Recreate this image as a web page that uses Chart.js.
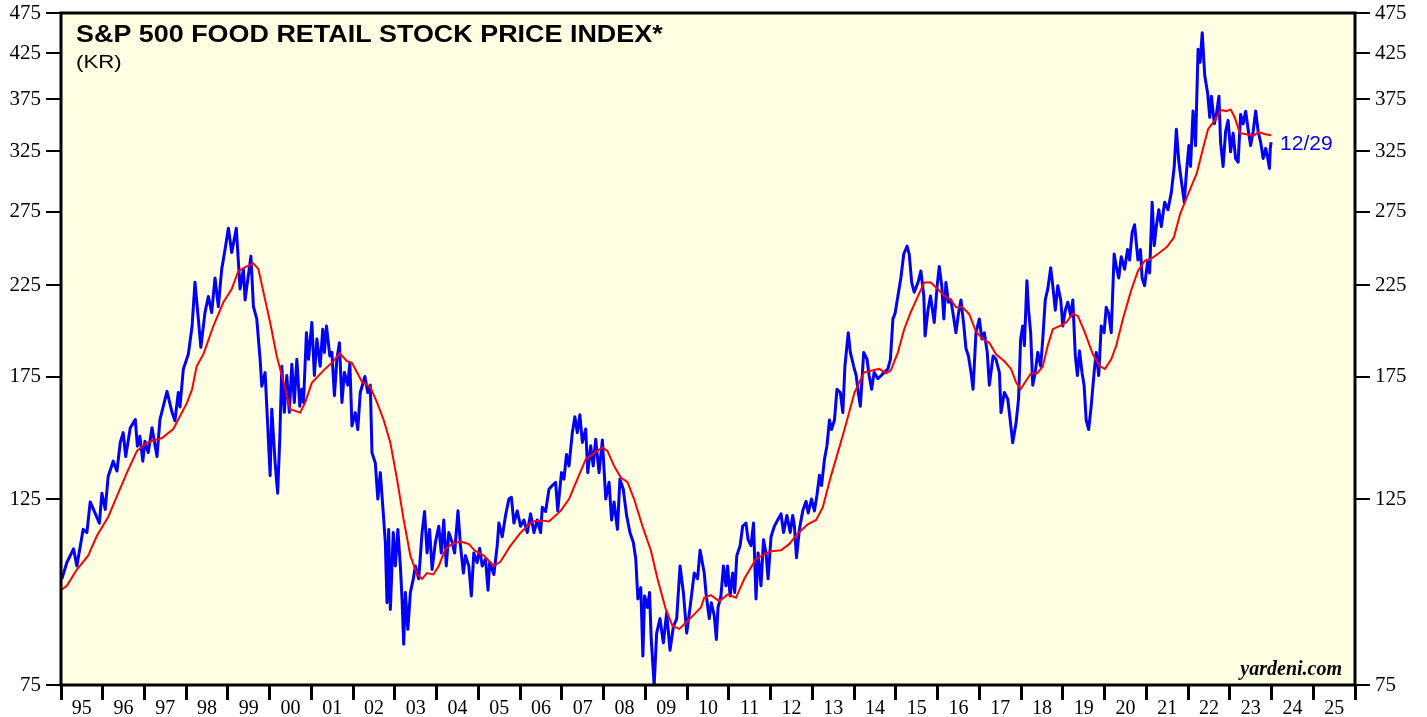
<!DOCTYPE html>
<html>
<head>
<meta charset="utf-8">
<title>S&amp;P 500 Food Retail Stock Price Index</title>
<script src="https://cdn.jsdelivr.net/npm/chart.js@4.4.1/dist/chart.umd.min.js"></script>
<style>
  html, body { margin: 0; padding: 0; background: #ffffff; }
  #wrap { width: 1427px; height: 717px; }
</style>
</head>
<body>
<div id="wrap"><canvas id="chart" width="1427" height="717"></canvas></div>
<script>
// ------------------------------------------------------
// DATA
// ------------------------------------------------------
const TITLE = "S&P 500 FOOD RETAIL STOCK PRICE INDEX*";
const SUBTITLE = "(KR)";
const LAST_LABEL = "12/29";
const SOURCE = "yardeni.com";

const yTicks = [75, 125, 175, 225, 275, 325, 375, 425, 475];
const xLabels = ["95", "96", "97", "98", "99", "00", "01", "02", "03", "04",
  "05", "06", "07", "08", "09", "10", "11", "12", "13", "14",
  "15", "16", "17", "18", "19", "20", "21", "22", "23", "24", "25"];

// price index (blue), decimal years
const priceDates = [
  1995.02, 1995.14, 1995.30, 1995.38, 1995.53, 1995.62, 1995.70, 1995.92, 1995.98,
  1996.06, 1996.13, 1996.25, 1996.34, 1996.42, 1996.49, 1996.55, 1996.66, 1996.78, 1996.83, 1996.89, 1996.96,
  1997.01, 1997.09, 1997.18, 1997.30, 1997.37, 1997.54, 1997.66, 1997.73, 1997.81, 1997.85, 1997.93,
  1998.05, 1998.14, 1998.21, 1998.29, 1998.35, 1998.45, 1998.53, 1998.61, 1998.69, 1998.77, 1998.85, 1998.93,
  1999.01, 1999.09, 1999.20, 1999.29, 1999.37, 1999.41, 1999.55, 1999.61, 1999.69, 1999.77, 1999.81, 1999.89, 1999.93,
  2000.01, 2000.05, 2000.13, 2000.19, 2000.24, 2000.29, 2000.35, 2000.41, 2000.47, 2000.53, 2000.59, 2000.65, 2000.72, 2000.77, 2000.81, 2000.88, 2000.93,
  2001.01, 2001.07, 2001.13, 2001.21, 2001.27, 2001.31, 2001.36, 2001.44, 2001.49, 2001.55, 2001.61, 2001.67, 2001.73, 2001.79, 2001.87, 2001.92, 2001.97,
  2002.05, 2002.11, 2002.17, 2002.28, 2002.35, 2002.41, 2002.45, 2002.53, 2002.59, 2002.65, 2002.72, 2002.77, 2002.81, 2002.85, 2002.89, 2002.96,
  2003.01, 2003.07, 2003.13, 2003.17, 2003.21, 2003.25, 2003.31, 2003.37, 2003.44, 2003.49, 2003.57, 2003.65, 2003.71, 2003.77, 2003.83, 2003.89, 2003.97,
  2004.05, 2004.11, 2004.17, 2004.23, 2004.29, 2004.37, 2004.43, 2004.51, 2004.57, 2004.64, 2004.69, 2004.77, 2004.83, 2004.89, 2004.97,
  2005.03, 2005.09, 2005.17, 2005.23, 2005.27, 2005.37, 2005.45, 2005.49, 2005.57, 2005.65, 2005.73, 2005.79, 2005.85, 2005.93,
  2006.01, 2006.09, 2006.17, 2006.25, 2006.33, 2006.41, 2006.49, 2006.53, 2006.61, 2006.69, 2006.77, 2006.85, 2006.90, 2006.99,
  2007.05, 2007.11, 2007.17, 2007.25, 2007.31, 2007.37, 2007.43, 2007.49, 2007.57, 2007.62, 2007.69, 2007.75, 2007.81, 2007.89, 2007.97,
  2008.05, 2008.13, 2008.19, 2008.25, 2008.33, 2008.39, 2008.47, 2008.55, 2008.63, 2008.71, 2008.77, 2008.82, 2008.89, 2008.94, 2008.98,
  2009.05, 2009.10, 2009.14, 2009.21, 2009.27, 2009.35, 2009.43, 2009.51, 2009.59, 2009.67, 2009.75, 2009.83, 2009.91, 2009.99,
  2010.07, 2010.17, 2010.25, 2010.31, 2010.41, 2010.45, 2010.53, 2010.58, 2010.65, 2010.70, 2010.74, 2010.81, 2010.87, 2010.93, 2010.97,
  2011.03, 2011.09, 2011.14, 2011.19, 2011.27, 2011.33, 2011.41, 2011.46, 2011.53, 2011.59, 2011.65, 2011.70, 2011.77, 2011.83, 2011.89, 2011.94,
  2012.01, 2012.09, 2012.17, 2012.25, 2012.31, 2012.39, 2012.47, 2012.53, 2012.57, 2012.62, 2012.69, 2012.77, 2012.85, 2012.90, 2012.98,
  2013.05, 2013.11, 2013.17, 2013.22, 2013.29, 2013.35, 2013.41, 2013.46, 2013.53, 2013.59, 2013.67, 2013.73, 2013.78, 2013.86, 2013.91, 2013.99,
  2014.05, 2014.10, 2014.15, 2014.23, 2014.31, 2014.36, 2014.42, 2014.48, 2014.57, 2014.65, 2014.72, 2014.81, 2014.87, 2014.93, 2014.98,
  2015.05, 2015.12, 2015.19, 2015.27, 2015.32, 2015.38, 2015.44, 2015.53, 2015.60, 2015.67, 2015.70, 2015.77, 2015.83, 2015.89, 2015.92, 2015.99,
  2016.04, 2016.10, 2016.15, 2016.20, 2016.26, 2016.32, 2016.39, 2016.44, 2016.50, 2016.56, 2016.63, 2016.68, 2016.74, 2016.80, 2016.85, 2016.92,
  2017.00, 2017.06, 2017.12, 2017.19, 2017.24, 2017.33, 2017.40, 2017.48, 2017.52, 2017.60, 2017.68, 2017.74, 2017.80, 2017.88, 2017.94, 2017.99,
  2018.04, 2018.08, 2018.14, 2018.18, 2018.23, 2018.28, 2018.34, 2018.40, 2018.47, 2018.52, 2018.58, 2018.64, 2018.71, 2018.76, 2018.82, 2018.88, 2018.95,
  2019.00, 2019.06, 2019.12, 2019.19, 2019.24, 2019.30, 2019.35, 2019.40, 2019.46, 2019.51, 2019.56, 2019.62, 2019.68, 2019.75, 2019.80, 2019.86, 2019.92, 2019.99,
  2020.04, 2020.10, 2020.16, 2020.23, 2020.28, 2020.34, 2020.40, 2020.48, 2020.55, 2020.60, 2020.66, 2020.72, 2020.80, 2020.86, 2020.90, 2020.96,
  2021.03, 2021.08, 2021.14, 2021.19, 2021.24, 2021.30, 2021.36, 2021.44, 2021.52, 2021.60, 2021.67, 2021.72, 2021.78, 2021.84, 2021.91, 2021.96,
  2022.02, 2022.06, 2022.12, 2022.18, 2022.24, 2022.29, 2022.34, 2022.40, 2022.47, 2022.52, 2022.56, 2022.63, 2022.68, 2022.74, 2022.78, 2022.84, 2022.90, 2022.96,
  2023.02, 2023.08, 2023.14, 2023.20, 2023.26, 2023.32, 2023.38, 2023.44, 2023.50, 2023.56, 2023.62, 2023.68, 2023.74, 2023.80, 2023.86, 2023.91, 2023.95, 2023.97, 2023.99
];
const priceValues = [
  100.3, 105, 109, 104, 115, 114, 124, 117, 127,
  121.5, 133, 138.7, 135, 146, 150, 140.5, 152, 155.5, 144.5, 148.5, 138.7,
  146.5, 142, 152, 140.5, 155.5, 168, 158.6, 155, 167.5, 161, 178.5,
  186, 200.9, 226.8, 205, 189.6, 208.7, 218, 208.7, 229.4, 212, 235, 248,
  263, 246, 263, 222.5, 235, 216, 243.6, 212, 205, 183.5, 170.4, 176.9, 161,
  133.3, 160, 138, 127, 147, 180, 158.6, 175.5, 158.6, 181, 163, 183.5, 161.3, 169, 163, 197.4, 183.5,
  203, 175.5, 194, 180, 199.3, 187, 201, 185.2, 187, 166, 183.5, 192, 163, 177, 170.9, 181.7, 152.8,
  158.5, 151.3, 167.5, 175, 167.5, 170.9, 142, 138, 125, 134.4, 120.3, 111, 94, 115, 92.3, 114,
  104, 115, 104, 95, 83.9, 96.7, 87.4, 96.7, 100.4, 104, 100.4, 114, 120.8, 107.8, 115, 103, 111,
  116, 107.8, 118, 104, 114, 111, 107.8, 121, 110, 102, 107, 104, 95.8, 107.8, 105,
  109.2, 104, 106, 97.3, 105, 101.6, 110, 117, 112.7, 119.5, 125, 125.6, 117, 121,
  116, 118, 114, 120, 114, 118, 114, 122.2, 120.8, 128.4, 129.7, 130.9, 121, 134.4,
  132, 141.3, 136.9, 150, 156.7, 150, 157.6, 146, 151.5, 134.4, 144.7, 136.9, 147.3, 134.4, 147,
  125, 130.9, 118, 124, 115, 132, 128.4, 119.5, 114, 111, 106, 95, 98, 81.2, 95.8,
  92.8, 96.7, 85, 75, 86.5, 90, 84.2, 91.5, 82.5, 88, 90, 104, 96.7, 86.5,
  92.8, 102, 100.4, 108.6, 102, 96.7, 90, 94, 90.7, 85, 92.8, 95.8, 104, 98.5, 104,
  95.8, 102, 96.7, 107, 110, 116, 117, 111.8, 110, 117, 95, 107.8, 98.5, 111.8, 107.8, 100.4,
  112.7, 116, 118, 120, 114, 119.5, 114, 119.5, 116, 106.4, 115, 121, 124.2, 120.3, 125,
  121, 126.3, 133.4, 129.7, 139.4, 144.7, 155.3, 151.3, 155.3, 169, 167.5, 158.5, 180, 197.4, 187, 180,
  175.5, 167.5, 161.3, 187, 183.5, 175.5, 169, 177, 174, 175.5, 177, 178.7, 183.5, 205, 208,
  218.3, 229.4, 245, 250.4, 245, 226.5, 220.6, 226.5, 233.9, 218.3, 195.6, 210, 218.3, 208, 203, 224.6,
  236.8, 224.6, 205, 226.5, 214.6, 216, 205, 197.4, 208, 216, 201, 189, 185.2, 177, 169, 197.4,
  205, 194, 197.4, 187, 170.9, 185.2, 183.5, 177, 158.5, 167.5, 164.6, 155.3, 145.9, 154, 164.6, 194,
  201, 190.5, 227.7, 210, 197.4, 170.9, 177, 187, 180, 194, 216, 222.6, 236, 224.6, 210, 224.6, 216,
  201, 210, 214.6, 206.7, 216, 185.2, 175.5, 187.8, 177, 170.9, 155.3, 151.3, 161.3, 177, 187, 175.5, 201, 197.4,
  211.7, 208, 197.4, 245, 236.8, 229.4, 243.2, 235, 248, 241, 259.7, 265.5, 241, 248, 229.4, 224.6,
  239.6, 232.6, 282.5, 250.7, 264.2, 276.7, 264.2, 282.5, 276.7, 290.2, 311.6, 345.2, 315.4, 299.5, 282.5, 305.9,
  330, 311.6, 363, 330, 430, 415, 450, 400, 381, 356.5, 378, 350.3, 359.5, 378, 333, 311.6, 343, 353.7,
  324.4, 341.5, 318.5, 315.4, 359.5, 350.3, 362.6, 345.2, 330, 343, 363, 343, 333, 318.5, 327.5, 318.5, 310, 327.5, 333
];

// moving average (red), decimal years
const avgDates = [
  1995.02, 1995.14, 1995.38, 1995.65, 1995.86, 1996.13, 1996.34, 1996.58, 1996.82,
  1997.06, 1997.25, 1997.42, 1997.69, 1998.02, 1998.14, 1998.25, 1998.41, 1998.65, 1998.89,
  1999.09, 1999.25, 1999.45, 1999.61, 1999.73, 1999.89, 2000.01, 2000.17, 2000.35, 2000.49, 2000.73, 2000.85,
  2001.01, 2001.29, 2001.49, 2001.68, 2001.85, 2001.97, 2002.21, 2002.41, 2002.57, 2002.73, 2002.89,
  2003.05, 2003.21, 2003.37, 2003.53, 2003.65, 2003.77, 2003.92, 2004.05, 2004.21, 2004.37, 2004.57, 2004.77, 2004.91,
  2005.13, 2005.29, 2005.37, 2005.53, 2005.77, 2006.01, 2006.29, 2006.53, 2006.69, 2006.97,
  2007.17, 2007.37, 2007.57, 2007.77, 2007.97, 2008.09, 2008.25, 2008.41, 2008.57, 2008.73, 2008.93,
  2009.13, 2009.29, 2009.49, 2009.65, 2009.81, 2010.01, 2010.21, 2010.33, 2010.41, 2010.57, 2010.77, 2010.97,
  2011.17, 2011.37, 2011.65, 2011.85, 2012.01, 2012.25, 2012.45, 2012.65, 2012.89,
  2013.09, 2013.25, 2013.45, 2013.61, 2013.77, 2014.01, 2014.24, 2014.45, 2014.60, 2014.77, 2014.88,
  2015.05, 2015.20, 2015.36, 2015.53, 2015.68, 2015.84, 2016.00, 2016.16, 2016.32, 2016.44, 2016.60, 2016.76, 2016.92,
  2017.08, 2017.24, 2017.40, 2017.60, 2017.76, 2017.88, 2017.99, 2018.12, 2018.24, 2018.39, 2018.52, 2018.64, 2018.76, 2018.92,
  2019.08, 2019.24, 2019.36, 2019.52, 2019.72, 2019.89, 2020.01, 2020.16, 2020.28, 2020.44, 2020.64, 2020.80, 2020.96,
  2021.12, 2021.30, 2021.50, 2021.66, 2021.81, 2022.02, 2022.21, 2022.36, 2022.48, 2022.64, 2022.79, 2022.92,
  2023.02, 2023.12, 2023.24, 2023.40, 2023.56, 2023.69, 2023.85, 2023.99
];
const avgValues = [
  97.5, 98.5, 103, 107, 113, 119, 126, 134.4, 142.7,
  145.9, 147, 147.8, 151.5, 162.9, 169, 180, 186, 201, 214.6,
  222.6, 233.9, 236.8, 238.8, 235, 216, 203, 185, 171, 160, 158.5, 163,
  172, 178, 181.7, 186.5, 182.5, 181.7, 172.5, 170, 163, 155.3, 145.9,
  132, 118, 107, 101.6, 100.4, 102, 101.6, 104, 109, 110.5, 111.2, 110.5, 108.5,
  107, 105, 104, 105.3, 110, 114, 117.5, 117.8, 117.5, 121,
  125, 132, 139.4, 141.8, 144, 142.7, 136.9, 132.6, 130.9, 125, 116,
  108.6, 100.4, 92.3, 88.2, 87.5, 89.4, 91.5, 92.8, 95.3, 96, 94.4, 96.2,
  95.3, 100.4, 106, 107.4, 108.3, 108.6, 110.5, 113.7, 116.6,
  118, 122.2, 133.4, 142, 151.3, 167.5, 177, 178, 178.7, 176.6, 178,
  187, 199.3, 209, 218.3, 226.5, 226.5, 222.6, 218.3, 216, 211.7, 211.7, 207.6, 198,
  194, 192, 186, 182.5, 178.7, 172.3, 169, 173, 176.6, 176.6, 180, 190.5, 199.3, 201,
  203, 208, 206.7, 198, 186, 180, 178.7, 183.5, 190.5, 205, 222, 233.9, 240.4,
  242, 245.5, 250, 256.4, 273.4, 290.2, 305.9, 327.5, 345.2, 353.7, 363.8, 362.8,
  364.5, 356.5, 341.5, 340.4, 339, 342.5, 340.4, 339.5
];

// ------------------------------------------------------
// STYLE
// ------------------------------------------------------
const SERIF = "'Liberation Serif','Times New Roman',serif";
const SANS = "'Liberation Sans',Arial,sans-serif";
const PANEL_BG = "#FFFFE4";
const TEXT_STRETCH = 1.17; // the headline type in the original is set wide

function toPoints(dates, values) {
  const pts = [];
  for (let i = 0; i < dates.length; i++) {
    pts.push({ x: dates[i], y: values[i] });
  }
  return pts;
}

// year boundaries carry the tick marks, mid-years carry the labels
const xTickValues = [];
for (let i = 0; i <= xLabels.length; i++) {
  xTickValues.push(1995 + i);
  if (i < xLabels.length) xTickValues.push(1995 + i + 0.5);
}

function isYearStart(v) {
  return Math.abs(v - Math.round(v)) < 0.001;
}

function wideText(ctx, text, x, y) {
  ctx.save();
  ctx.translate(x, y);
  ctx.scale(TEXT_STRETCH, 1);
  ctx.fillText(text, 0, 0);
  ctx.restore();
}

// ------------------------------------------------------
// PANEL PLUGIN: background, frame, texts
// ------------------------------------------------------
const panelPlugin = {
  id: "panel",
  beforeDraw(chart) {
    const a = chart.chartArea;
    const ctx = chart.ctx;
    ctx.save();
    ctx.fillStyle = PANEL_BG;
    ctx.fillRect(a.left, a.top, a.right - a.left, a.bottom - a.top);
    ctx.restore();
  },
  afterDraw(chart) {
    const a = chart.chartArea;
    const ctx = chart.ctx;
    ctx.save();

    ctx.strokeStyle = "#000";
    ctx.lineWidth = 3;
    ctx.strokeRect(a.left, a.top, a.right - a.left, a.bottom - a.top);

    ctx.fillStyle = "#000";
    ctx.textAlign = "left";
    ctx.textBaseline = "alphabetic";
    ctx.font = "bold 23px " + SANS;
    wideText(ctx, TITLE, a.left + 15, a.top + 29);
    ctx.font = "19px " + SANS;
    wideText(ctx, SUBTITLE, a.left + 15, a.top + 55);

    // date tag next to the last price
    const n = priceDates.length - 1;
    const px = chart.scales.x.getPixelForValue(priceDates[n]);
    const py = chart.scales.y.getPixelForValue(priceValues[n]);
    ctx.fillStyle = "#0000FF";
    ctx.font = "21px " + SANS;
    ctx.textBaseline = "middle";
    ctx.fillText(LAST_LABEL, px + 9, py + 2);

    ctx.fillStyle = "#000";
    ctx.textAlign = "right";
    ctx.textBaseline = "alphabetic";
    ctx.font = "bold italic 20px " + SERIF;
    ctx.fillText(SOURCE, a.right - 13, a.bottom - 10);

    ctx.restore();
  },
};

function yAxis(position, width) {
  return {
    type: "logarithmic",
    position: position,
    min: 75,
    max: 475,
    afterBuildTicks: function (s) {
      s.ticks = yTicks.map(function (v) { return { value: v }; });
    },
    afterFit: function (s) {
      s.width = width;
      s.paddingTop = 0;
      s.paddingBottom = 0;
    },
    grid: { drawOnChartArea: false, tickLength: 15, color: "#000", lineWidth: 2 },
    border: { display: false },
    ticks: {
      color: "#000",
      padding: 5,
      font: { family: SERIF, size: 21 },
      callback: function (v) { return String(v); },
    },
  };
}

// ------------------------------------------------------
// CHART
// ------------------------------------------------------
new Chart(document.getElementById("chart").getContext("2d"), {
  type: "line",
  data: {
    datasets: [
      {
        label: "Moving average",
        data: toPoints(avgDates, avgValues),
        borderColor: "#FF0000",
        borderWidth: 2,
        order: 0,
      },
      {
        label: "KR",
        data: toPoints(priceDates, priceValues),
        borderColor: "#0000FF",
        borderWidth: 3,
        borderJoinStyle: "round",
        order: 1,
      },
    ],
  },
  options: {
    responsive: false,
    animation: false,
    layout: { padding: { top: 13, left: 0, right: 0, bottom: 0 } },
    plugins: { legend: { display: false }, tooltip: { enabled: false } },
    elements: { point: { radius: 0 }, line: { tension: 0 } },
    scales: {
      x: {
        type: "linear",
        min: 1995,
        max: 2026,
        afterBuildTicks: function (s) {
          s.ticks = xTickValues.map(function (v) { return { value: v }; });
        },
        afterFit: function (s) {
          s.height = 32;
          s.paddingLeft = 0;
          s.paddingRight = 0;
        },
        grid: {
          drawOnChartArea: false,
          tickLength: 15,
          lineWidth: 3,
          color: function (c) {
            return c.tick && isYearStart(c.tick.value) ? "#000" : "rgba(0,0,0,0)";
          },
        },
        border: { display: false },
        ticks: {
          autoSkip: false,
          maxRotation: 0,
          padding: -3,
          color: "#000",
          font: { family: SERIF, size: 20 },
          callback: function (v) {
            if (isYearStart(v)) return "";
            return xLabels[Math.floor(v) - 1995];
          },
        },
      },
      y: yAxis("left", 61),
      y2: yAxis("right", 72),
    },
  },
  plugins: [panelPlugin],
});
</script>
</body>
</html>
